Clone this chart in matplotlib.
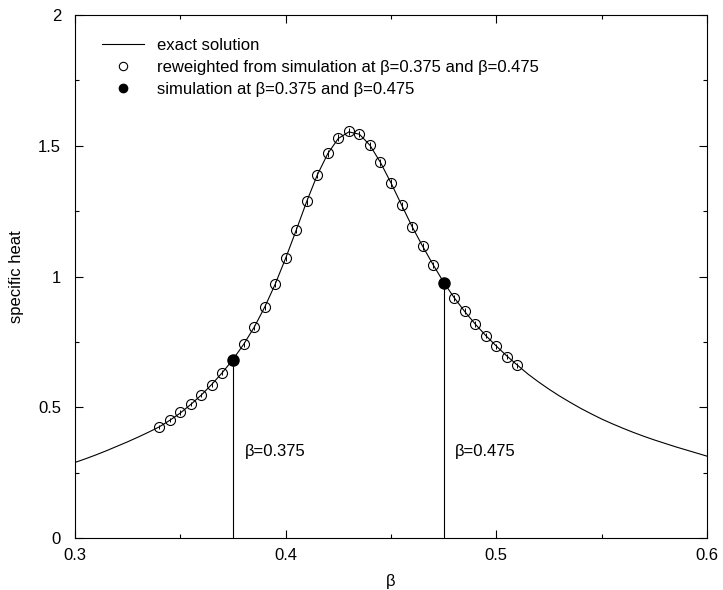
import matplotlib
matplotlib.use("Agg")
import matplotlib.pyplot as plt
from matplotlib.lines import Line2D

plt.rcParams['font.family'] = ['Liberation Sans', 'DejaVu Sans']

# exact specific heat curve
beta_exact = [0.300, 0.305, 0.310, 0.315, 0.320, 0.325, 0.330, 0.335, 0.340, 0.345,
              0.350, 0.355, 0.360, 0.365, 0.370, 0.375, 0.380, 0.385, 0.390, 0.395,
              0.400, 0.405, 0.410, 0.415, 0.420, 0.425, 0.430, 0.435, 0.440, 0.445,
              0.450, 0.455, 0.460, 0.465, 0.470, 0.475, 0.480, 0.485, 0.490, 0.495,
              0.500, 0.505, 0.510, 0.515, 0.520, 0.525, 0.530, 0.535, 0.540, 0.545,
              0.550, 0.555, 0.560, 0.565, 0.570, 0.575, 0.580, 0.585, 0.590, 0.595,
              0.600]
c_exact = [0.289, 0.303, 0.318, 0.334, 0.351, 0.368, 0.386, 0.405, 0.425, 0.450,
           0.478, 0.511, 0.547, 0.588, 0.633, 0.683, 0.740, 0.805, 0.882, 0.970,
           1.070, 1.177, 1.287, 1.388, 1.470, 1.528, 1.553, 1.544, 1.502, 1.436,
           1.358, 1.274, 1.191, 1.116, 1.045, 0.978, 0.919, 0.866, 0.818, 0.774,
           0.734, 0.696, 0.661, 0.627, 0.597, 0.569, 0.543, 0.519, 0.496, 0.475,
           0.455, 0.437, 0.420, 0.404, 0.389, 0.375, 0.362, 0.349, 0.337, 0.325,
           0.313]

# reweighted estimates
beta_rw = [0.340, 0.345, 0.350, 0.355, 0.360, 0.365, 0.370,
           0.380, 0.385, 0.390, 0.395, 0.400, 0.405, 0.410, 0.415, 0.420, 0.425,
           0.430, 0.435, 0.440, 0.445, 0.450, 0.455, 0.460, 0.465, 0.470,
           0.480, 0.485, 0.490, 0.495, 0.500, 0.505, 0.510]
c_rw = [0.425, 0.452, 0.480, 0.512, 0.547, 0.587, 0.632,
        0.740, 0.806, 0.884, 0.971, 1.072, 1.178, 1.287, 1.388, 1.471, 1.531,
        1.555, 1.545, 1.501, 1.436, 1.357, 1.272, 1.190, 1.116, 1.044,
        0.919, 0.867, 0.817, 0.773, 0.733, 0.694, 0.660]
err_rw = [0.008, 0.008, 0.008, 0.009, 0.009, 0.009, 0.010,
          0.010, 0.010, 0.011, 0.011, 0.012, 0.012, 0.013, 0.013, 0.013, 0.013,
          0.013, 0.013, 0.013, 0.013, 0.014, 0.014, 0.014, 0.013, 0.012,
          0.011, 0.011, 0.011, 0.010, 0.010, 0.010, 0.010]

# direct simulation points
beta_sim = [0.375, 0.475]
c_sim = [0.682, 0.977]
sim_labels = ["β=0.375", "β=0.475"]

x_ticks = [0.3, 0.4, 0.5, 0.6]
x_minor = [0.35, 0.45, 0.55]
y_ticks = [0, 0.5, 1, 1.5, 2]
y_minor = [0.25, 0.75, 1.25, 1.75]

legend_labels = ["exact solution",
                 "reweighted from simulation at β=0.375 and β=0.475",
                 "simulation at β=0.375 and β=0.475"]

fig = plt.figure(figsize=(7.23, 5.90), dpi=100)
ax = fig.add_axes([0.1037, 0.0881, 0.8742, 0.8865])

ax.plot(beta_exact, c_exact, color='black', lw=0.8)
ax.errorbar(beta_rw, c_rw, yerr=err_rw, fmt='o', ms=7.2, mfc='none',
            mec='black', mew=0.8, ecolor='black', elinewidth=0.7, capsize=0,
            zorder=3)
ax.plot(beta_sim, c_sim, 'o', ms=8, color='black', zorder=4)

for b, c, txt in zip(beta_sim, c_sim, sim_labels):
    ax.vlines(b, 0, c, color='black', lw=0.8)
    ax.text(b + 0.0055, 0.33, txt, fontsize=12, va='center', ha='left')

ax.set_xlim(0.3, 0.6)
ax.set_ylim(0, 2)
ax.set_xticks(x_ticks)
ax.set_xticklabels(['0.3', '0.4', '0.5', '0.6'])
ax.set_xticks(x_minor, minor=True)
ax.set_yticks(y_ticks)
ax.set_yticklabels(['0', '0.5', '1', '1.5', '2'])
ax.set_yticks(y_minor, minor=True)
ax.tick_params(which='both', direction='in', top=True, right=True,
               labelsize=12, width=0.8)
ax.tick_params(which='major', length=6)
ax.tick_params(which='minor', length=3)
ax.tick_params(axis='x', which='major', pad=7)
ax.tick_params(axis='y', which='major', pad=10)
for s in ax.spines.values():
    s.set_linewidth(0.8)

ax.set_xlabel('β', fontsize=12, labelpad=8)
ax.set_ylabel('specific heat', fontsize=12, labelpad=10)

handles = [
    Line2D([], [], color='black', lw=0.8),
    Line2D([], [], ls='none', marker='o', ms=6, mfc='white', mec='black', mew=0.8),
    Line2D([], [], ls='none', marker='o', ms=6, color='black'),
]
ax.legend(handles, legend_labels, loc='upper left', frameon=False, fontsize=12,
          handlelength=2.5, handletextpad=0.8, labelspacing=0.42,
          bbox_to_anchor=(0.025, 0.978), borderaxespad=0.3)

fig.savefig('out.png', dpi=100)
